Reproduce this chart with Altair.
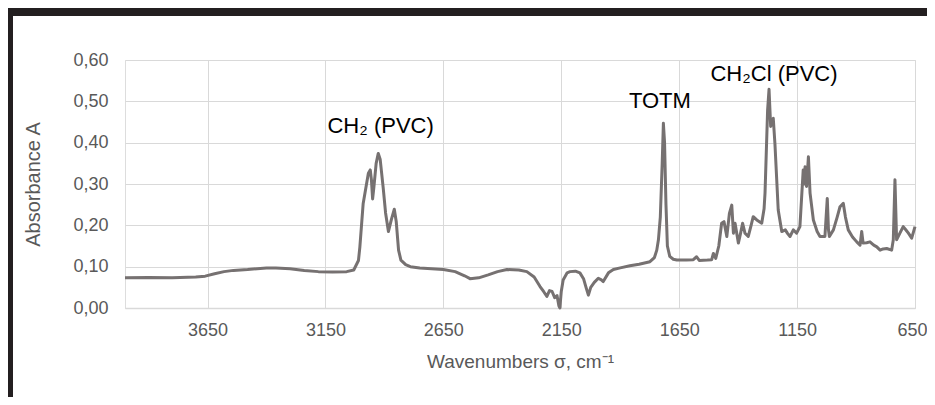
import altair as alt
import pandas as pd

# Wavenumbers (cm-1) and absorbance
wavenumber = [
    4000, 3900, 3800, 3700, 3660, 3620, 3580, 3540, 3480, 3400, 3360, 3300, 3240, 3180,
    3120, 3060, 3030, 3010, 3004, 2990, 2968, 2960, 2955, 2950, 2945, 2935, 2926, 2918,
    2905, 2895, 2883, 2870, 2858, 2850, 2840, 2830, 2810, 2790, 2750, 2700, 2650, 2600,
    2560, 2537, 2500, 2460, 2420, 2380, 2330, 2296, 2265, 2240, 2225, 2211, 2200, 2189,
    2178, 2168, 2160, 2156, 2150, 2142, 2125, 2113, 2090, 2071, 2055, 2045, 2035, 2025,
    2010, 1993, 1980, 1972, 1950, 1929, 1900, 1859, 1820, 1774, 1755, 1745, 1738, 1730,
    1722, 1717, 1712, 1706, 1700, 1690, 1675, 1660, 1620, 1590, 1576, 1565, 1530, 1512,
    1505, 1495, 1482, 1470, 1460, 1448, 1437, 1427, 1420, 1413, 1399, 1390, 1381, 1371,
    1357, 1345, 1336, 1321, 1300, 1290, 1286, 1275, 1269, 1262, 1256, 1251, 1244, 1230,
    1215, 1200, 1190, 1180, 1166, 1152, 1138, 1124, 1120, 1116, 1110, 1102, 1095, 1081,
    1065, 1053, 1032, 1022, 1017, 1013, 996, 980, 968, 954, 945, 933, 915, 897,
    883, 876, 870, 855, 841, 825, 812, 798, 785, 770, 749, 742, 735, 728,
    714, 700, 690, 678, 664, 650,
]
absorbance = [
    0.073, 0.074, 0.073, 0.075, 0.077, 0.083, 0.088, 0.091, 0.093, 0.097, 0.097, 0.095, 0.091, 0.088,
    0.087, 0.088, 0.092, 0.115, 0.148, 0.253, 0.326, 0.334, 0.310, 0.264, 0.290, 0.350, 0.374, 0.360,
    0.290, 0.230, 0.185, 0.215, 0.239, 0.210, 0.140, 0.116, 0.105, 0.100, 0.097, 0.095, 0.093, 0.088,
    0.078, 0.071, 0.073, 0.080, 0.088, 0.093, 0.092, 0.088, 0.075, 0.052, 0.040, 0.028, 0.042, 0.040,
    0.025, 0.030, 0.005, 0.000, 0.040, 0.068, 0.085, 0.088, 0.089, 0.085, 0.070, 0.050, 0.031, 0.050,
    0.062, 0.072, 0.068, 0.064, 0.085, 0.093, 0.097, 0.102, 0.106, 0.112, 0.122, 0.140, 0.165, 0.220,
    0.350, 0.447, 0.400, 0.250, 0.150, 0.125, 0.118, 0.116, 0.116, 0.117, 0.124, 0.115, 0.116, 0.117,
    0.132, 0.120, 0.150, 0.205, 0.209, 0.173, 0.229, 0.249, 0.181, 0.205, 0.157, 0.180, 0.205, 0.181,
    0.173, 0.200, 0.221, 0.213, 0.205, 0.240, 0.278, 0.479, 0.529, 0.439, 0.455, 0.459, 0.398, 0.237,
    0.185, 0.189, 0.180, 0.173, 0.189, 0.181, 0.197, 0.334, 0.300, 0.342, 0.294, 0.366, 0.278, 0.213,
    0.185, 0.173, 0.173, 0.265, 0.190, 0.173, 0.189, 0.220, 0.245, 0.253, 0.220, 0.189, 0.172, 0.160,
    0.152, 0.185, 0.157, 0.158, 0.160, 0.152, 0.148, 0.140, 0.143, 0.144, 0.140, 0.165, 0.310, 0.165,
    0.181, 0.197, 0.190, 0.181, 0.169, 0.197,
]

ann_text = ["CH\u2082 (PVC)", "TOTM", "CH\u2082Cl (PVC)"]
ann_x = [2916, 1732, 1248]
ann_y = [0.424, 0.483, 0.548]

x_ticks = [3650, 3150, 2650, 2150, 1650, 1150, 650]
y_ticks = [0.0, 0.1, 0.2, 0.3, 0.4, 0.5, 0.6]

df = pd.DataFrame({"w": wavenumber, "a": absorbance})
ann = pd.DataFrame({"t": ann_text, "w": ann_x, "a": ann_y})

FONT = "Liberation Sans"
GRID = "#d9d9d9"
TXT = "#595959"

xscale = alt.Scale(domain=[650, 4000], reverse=True, nice=False, zero=False)
yscale = alt.Scale(domain=[0, 0.6], nice=False)

line = alt.Chart(df).mark_line(color="#767171", strokeWidth=3, strokeJoin="round").encode(
    x=alt.X("w:Q", scale=xscale, axis=alt.Axis(
        values=x_ticks, format="d", grid=True, gridColor=GRID, domainColor=GRID, domainWidth=1.5,
        ticks=False, labelFont=FONT, labelFontSize=18, labelColor=TXT, labelPadding=13,
        labelFlush=True, labelFlushOffset=12, labelOverlap=False,
        title="Wavenumbers \u03c3, cm\u207b\u00b9", titleFont=FONT, titleFontSize=19,
        titleFontWeight="normal", titleColor=TXT, titleY=59, titleBaseline="alphabetic")),
    y=alt.Y("a:Q", scale=yscale, axis=alt.Axis(
        values=y_ticks, grid=True, gridColor=GRID, domain=False, ticks=False,
        labelFont=FONT, labelFontSize=18, labelColor=TXT, labelPadding=17, labelFlush=False,
        labelExpr="replace(format(datum.value, '.2f'), '.', ',')",
        title="Absorbance A", titleFont=FONT, titleFontSize=20, titleFontWeight="normal",
        titleColor=TXT, titleX=-92, titleY=124, titleAlign="center",
        titleBaseline="middle", titleAngle=270)),
)

labels = alt.Chart(ann).mark_text(font=FONT, fontSize=22, color="#000000",
                                  baseline="alphabetic", align="center").encode(
    x=alt.X("w:Q", scale=xscale), y=alt.Y("a:Q", scale=yscale), text="t:N")

one = alt.Data(values=[{"k": 1}])
top_band = alt.Chart(one).mark_rect(color="#231f20").encode(
    x=alt.value(-117), x2=alt.value(802), y=alt.value(-52), y2=alt.value(-44))
left_band = alt.Chart(one).mark_rect(color="#231f20").encode(
    x=alt.value(-117), x2=alt.value(-112), y=alt.value(-52), y2=alt.value(337))

chart = alt.layer(line, labels, top_band, left_band).properties(
    width=790, height=248,
    autosize=alt.AutoSizeParams(type="none"),
    padding={"left": 117, "top": 52, "right": 12, "bottom": 89},
).configure_view(stroke=None).configure(background="white")

chart.save("out.html", embed_options={"renderer": "svg", "actions": False})
